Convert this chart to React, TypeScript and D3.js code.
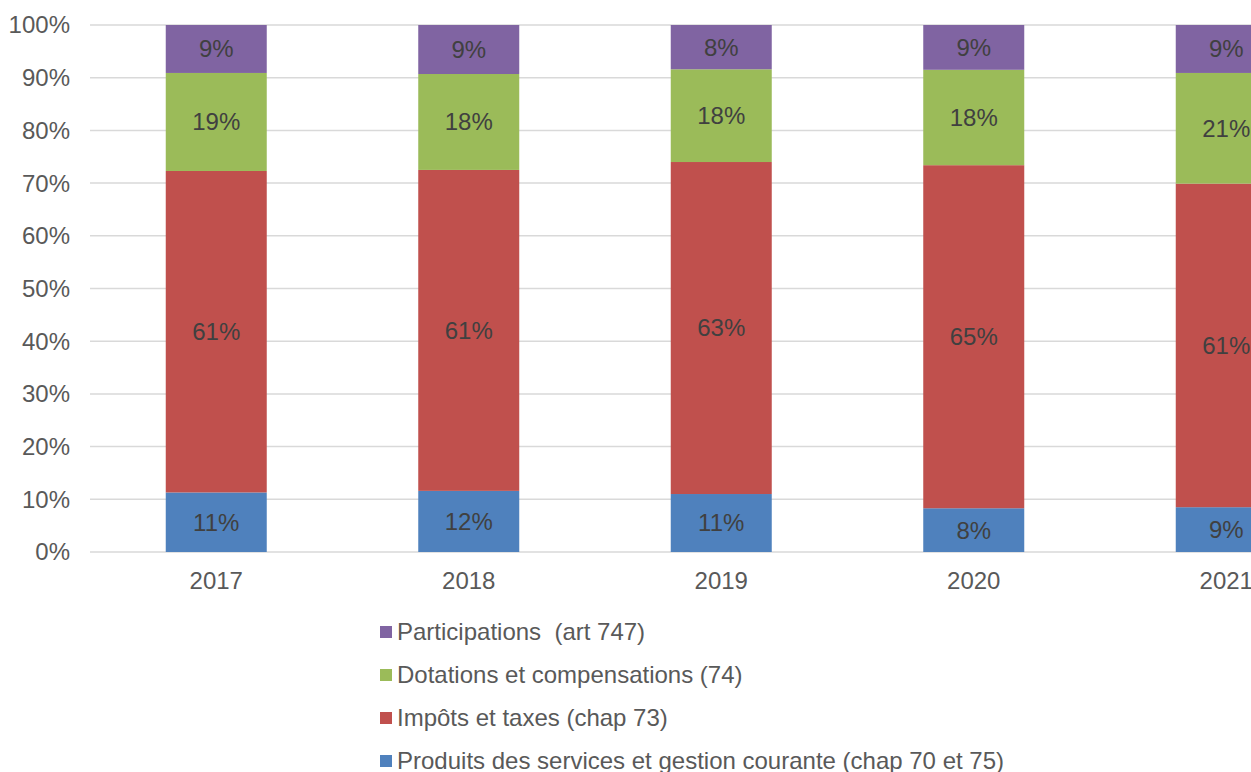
import React, { useEffect, useRef } from 'react';
import * as d3 from 'd3';

const years = ['2017', '2018', '2019', '2020', '2021'];
const produits = [11.3, 11.6, 11.0, 8.3, 8.5];
const impots = [61.0, 60.9, 63.0, 65.1, 61.4];
const dotations = [18.6, 18.2, 17.6, 18.1, 21.0];
const participations = [9.1, 9.3, 8.4, 8.5, 9.1];
const yTicks = [0, 10, 20, 30, 40, 50, 60, 70, 80, 90, 100];

const seriesNames = [
  'Produits des services et gestion courante (chap 70 et 75)',
  'Impôts et taxes (chap 73)',
  'Dotations et compensations (74)',
  'Participations  (art 747)',
];
const seriesColors = ['#4f81bd', '#c0504d', '#9bbb59', '#8064a2'];

export default function App() {
  const ref = useRef<SVGSVGElement | null>(null);

  useEffect(() => {
    const W = 1251;
    const left = 90, top = 25, bottom = 552;
    const svg = d3.select(ref.current);
    svg.selectAll('*').remove();
    const font = "'Liberation Sans', Arial, sans-serif";

    const rows = years.map((y, i) => ({
      year: y,
      s0: produits[i],
      s1: impots[i],
      s2: dotations[i],
      s3: participations[i],
    }));
    const keys = ['s0', 's1', 's2', 's3'];
    const stacked = d3.stack<any>().keys(keys)(rows);

    const x = d3.scaleBand()
      .domain(years)
      .range([left, left + 252.5 * years.length])
      .paddingInner(0.6)
      .paddingOuter(0.3);
    const y = d3.scaleLinear().domain([0, 100]).range([bottom, top]);

    // gridlines
    svg.append('g')
      .selectAll('line')
      .data(yTicks)
      .enter()
      .append('line')
      .attr('x1', left)
      .attr('x2', W)
      .attr('y1', d => y(d))
      .attr('y2', d => y(d))
      .attr('stroke', '#d9d9d9')
      .attr('stroke-width', 1.5);

    // y tick labels
    svg.append('g')
      .selectAll('text')
      .data(yTicks)
      .enter()
      .append('text')
      .attr('x', 70)
      .attr('y', d => y(d))
      .attr('dy', '0.35em')
      .attr('text-anchor', 'end')
      .attr('font-family', font)
      .attr('font-size', 24)
      .attr('fill', '#595959')
      .text(d => d + '%');

    // bars
    stacked.forEach((layer, k) => {
      const g = svg.append('g');
      g.selectAll('rect')
        .data(layer)
        .enter()
        .append('rect')
        .attr('x', d => x(d.data.year) as number)
        .attr('width', x.bandwidth())
        .attr('y', d => y(d[1]))
        .attr('height', d => y(d[0]) - y(d[1]))
        .attr('fill', seriesColors[k]);
      g.selectAll('text')
        .data(layer)
        .enter()
        .append('text')
        .attr('x', d => (x(d.data.year) as number) + x.bandwidth() / 2)
        .attr('y', d => (y(d[0]) + y(d[1])) / 2)
        .attr('dy', '0.35em')
        .attr('text-anchor', 'middle')
        .attr('font-family', font)
        .attr('font-size', 24)
        .attr('fill', '#404040')
        .text(d => Math.round(d[1] - d[0]) + '%');
    });

    // x labels
    svg.append('g')
      .selectAll('text')
      .data(years)
      .enter()
      .append('text')
      .attr('x', d => (x(d) as number) + x.bandwidth() / 2)
      .attr('y', 581)
      .attr('dy', '0.35em')
      .attr('text-anchor', 'middle')
      .attr('font-family', font)
      .attr('font-size', 24)
      .attr('fill', '#595959')
      .text(d => d);

    // legend, reversed order
    const legendOrder = [3, 2, 1, 0];
    const lg = svg.append('g');
    legendOrder.forEach((k, i) => {
      const ly = 632 + i * 43;
      lg.append('rect')
        .attr('x', 380)
        .attr('y', ly - 6)
        .attr('width', 12)
        .attr('height', 12)
        .attr('fill', seriesColors[k]);
      lg.append('text')
        .attr('x', 397)
        .attr('y', ly)
        .attr('dy', '0.35em')
        .attr('font-family', font)
        .attr('font-size', 24)
        .attr('fill', '#595959')
        .style('white-space', 'pre')
        .text(seriesNames[k]);
    });
  }, []);

  return (
    <div style={{ position: 'absolute', left: 0, top: 0 }}>
      <svg ref={ref} width={1251} height={772} style={{ display: 'block', background: '#fff' }} />
    </div>
  );
}
